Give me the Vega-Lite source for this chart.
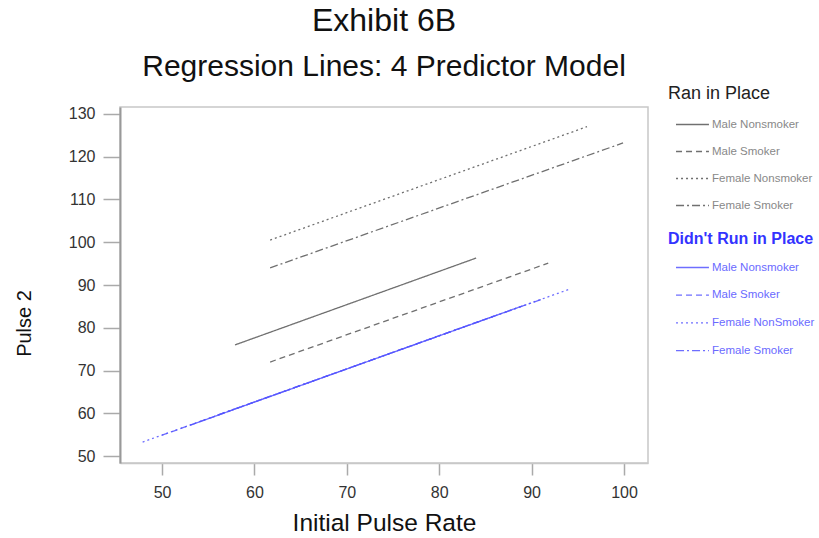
{
  "$schema": "https://vega.github.io/schema/vega-lite/v6.json",
  "width": 528,
  "height": 356,
  "autosize": {"type": "none"},
  "padding": {"left": 120, "top": 107, "right": 171, "bottom": 75},
  "title": {
    "text": "Exhibit 6B",
    "subtitle": "Regression Lines: 4 Predictor Model",
    "fontSize": 32,
    "subtitleFontSize": 30,
    "fontWeight": "normal",
    "color": "#111",
    "subtitleColor": "#111",
    "anchor": "middle",
    "offset": 2,
    "subtitlePadding": 14
  },
  "config": {
    "font": "Liberation Sans",
    "view": {"stroke": "#c8c8c8", "strokeWidth": 1.5},
    "axis": {
      "grid": false,
      "labelFont": "Liberation Sans",
      "titleFont": "Liberation Sans",
      "labelFontSize": 16,
      "labelColor": "#333",
      "titleColor": "#111",
      "titleFontWeight": "normal",
      "tickColor": "#aaa",
      "tickWidth": 1.5
    },
    "legend": {"padding": 0}
  },
  "data": {
    "values": [
      {"group": "Ran", "series": "Male Nonsmoker", "pulse1": 57.9, "pulse2": 76.0},
      {"group": "Ran", "series": "Male Nonsmoker", "pulse1": 84.0, "pulse2": 96.3},
      {"group": "Ran", "series": "Male Smoker", "pulse1": 61.7, "pulse2": 72.0},
      {"group": "Ran", "series": "Male Smoker", "pulse1": 91.8, "pulse2": 95.1},
      {"group": "Ran", "series": "Female Nonsmoker", "pulse1": 61.7, "pulse2": 100.5},
      {"group": "Ran", "series": "Female Nonsmoker", "pulse1": 96.0, "pulse2": 127.0},
      {"group": "Ran", "series": "Female Smoker", "pulse1": 61.7, "pulse2": 94.0},
      {"group": "Ran", "series": "Female Smoker", "pulse1": 99.9, "pulse2": 123.2},
      {"group": "NoRun", "series": "Male Nonsmoker", "pulse1": 53.0, "pulse2": 57.2},
      {"group": "NoRun", "series": "Male Nonsmoker", "pulse1": 89.0, "pulse2": 85.1},
      {"group": "NoRun", "series": "Male Smoker", "pulse1": 50.0, "pulse2": 54.9},
      {"group": "NoRun", "series": "Male Smoker", "pulse1": 86.0, "pulse2": 82.8},
      {"group": "NoRun", "series": "Female NonSmoker", "pulse1": 47.9, "pulse2": 53.3},
      {"group": "NoRun", "series": "Female NonSmoker", "pulse1": 94.2, "pulse2": 89.1},
      {"group": "NoRun", "series": "Female Smoker", "pulse1": 56.0, "pulse2": 59.6},
      {"group": "NoRun", "series": "Female Smoker", "pulse1": 91.0, "pulse2": 86.6}
    ]
  },
  "encoding": {
    "x": {
      "field": "pulse1",
      "type": "quantitative",
      "title": "Initial Pulse Rate",
      "scale": {"domain": [45.45, 102.6], "nice": false, "zero": false},
      "axis": {"values": [50, 60, 70, 80, 90, 100], "tickSize": 12, "labelPadding": 9, "titleFontSize": 24.5, "titlePadding": 11, "domainColor": "#c8c8c8", "domainWidth": 1.5}
    },
    "y": {
      "field": "pulse2",
      "type": "quantitative",
      "title": "Pulse 2",
      "scale": {"domain": [48.4, 131.6], "nice": false, "zero": false},
      "axis": {"values": [50, 60, 70, 80, 90, 100, 110, 120, 130], "tickSize": 17, "labelPadding": 8, "titleFontSize": 20, "titlePadding": 34, "titleY": 216, "domainColor": "#999", "domainWidth": 2}
    }
  },
  "layer": [
    {
      "transform": [{"filter": "datum.group === 'Ran'"}],
      "mark": {"type": "line", "color": "#707070", "strokeWidth": 1.3},
      "encoding": {
        "strokeDash": {
          "field": "series",
          "type": "nominal",
          "scale": {
            "domain": ["Male Nonsmoker", "Male Smoker", "Female Nonsmoker", "Female Smoker"],
            "range": [[1, 0], [6, 4], [2, 3], [8, 3, 2, 3]]
          },
          "legend": {
            "title": "Ran in Place",
            "orient": "none",
            "legendX": 548,
            "legendY": -22,
            "titleFontSize": 18,
            "titleFontWeight": "normal",
            "titleColor": "#222",
            "titlePadding": 7,
            "labelFontSize": 11.5,
            "labelColor": "#888",
            "symbolType": "M-0.48,0H1.96",
            "symbolSize": 729,
            "symbolStrokeColor": "#707070",
            "symbolStrokeWidth": 1.3,
            "labelOffset": 15,
            "rowPadding": 7
          }
        }
      }
    },
    {
      "transform": [{"filter": "datum.group === 'NoRun'"}],
      "mark": {"type": "line", "color": "#5555ff", "strokeWidth": 1.3, "opacity": 0.85},
      "encoding": {
        "strokeDash": {
          "field": "series",
          "type": "nominal",
          "scale": {
            "domain": ["Male Nonsmoker", "Male Smoker", "Female NonSmoker", "Female Smoker"],
            "range": [[1, 0], [6, 4], [2, 3], [8, 3, 2, 3]]
          },
          "legend": {
            "title": "Didn't Run in Place",
            "orient": "none",
            "legendX": 548,
            "legendY": 124,
            "titleFontSize": 16,
            "titleFontWeight": "bold",
            "titleColor": "#3333ff",
            "titlePadding": 6,
            "labelFontSize": 11.5,
            "labelColor": "#6a6aff",
            "symbolType": "M-0.48,0H1.96",
            "symbolSize": 729,
            "symbolStrokeColor": "#5555ff",
            "symbolStrokeWidth": 1.3,
            "labelOffset": 15,
            "rowPadding": 7.7
          }
        }
      }
    }
  ],
  "resolve": {"scale": {"strokeDash": "independent"}, "legend": {"strokeDash": "independent"}}
}
